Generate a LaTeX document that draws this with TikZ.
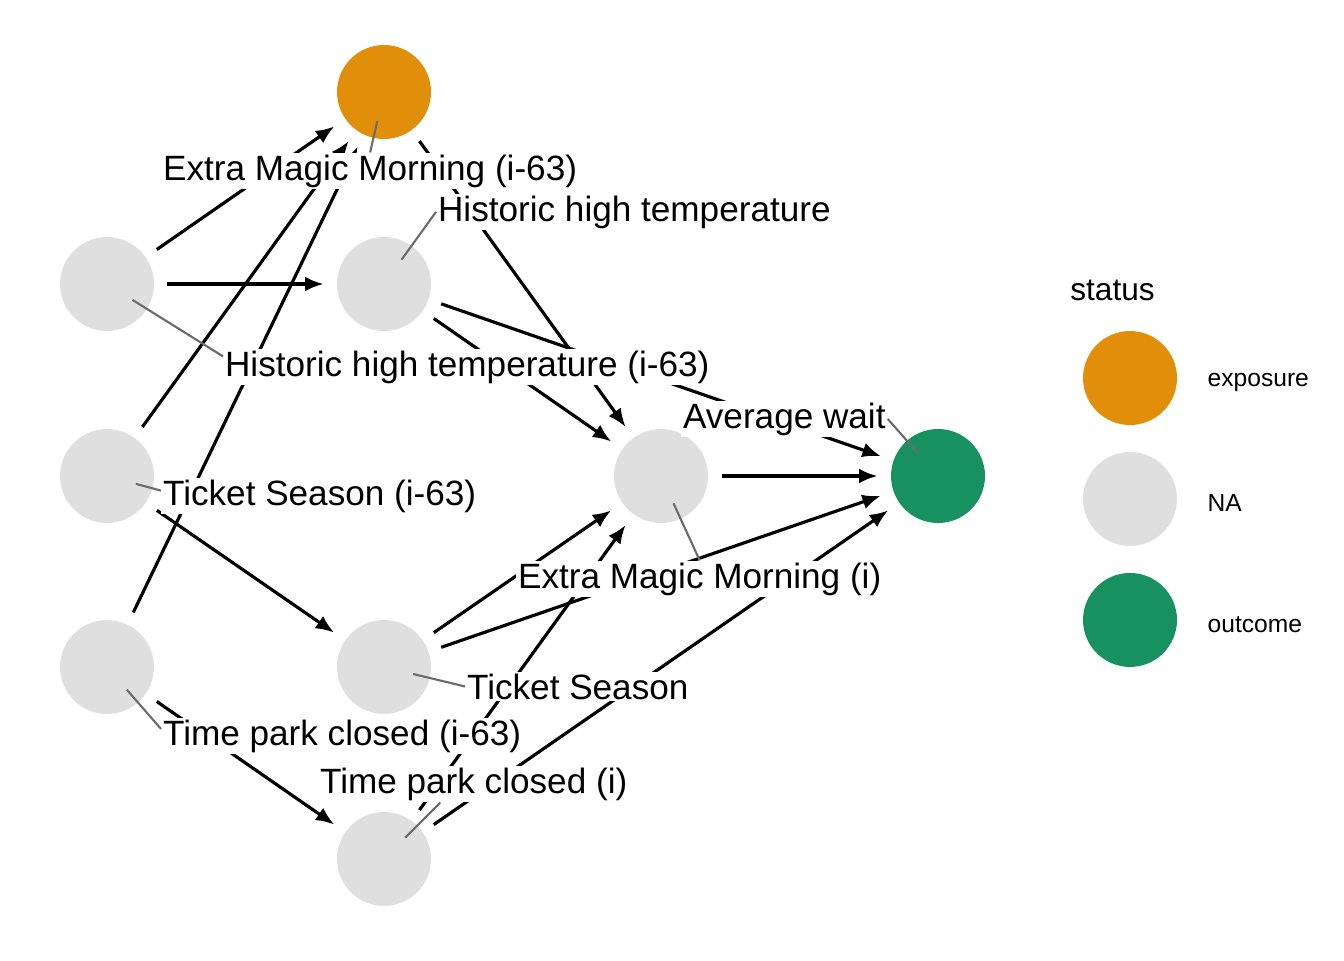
\documentclass[tikz,border=0pt]{standalone}
\usepackage{fontspec}
\setmainfont{Liberation Sans}
\usetikzlibrary{arrows.meta,positioning}

\definecolor{exposurecol}{HTML}{E18E0B}
\definecolor{nacol}{HTML}{DFDFDF}
\definecolor{outcomecol}{HTML}{16915F}

\begin{document}
\begin{tikzpicture}[
		x=0.02cm, y=-0.02cm,
		var/.style      = {circle, minimum size=1.88cm, inner sep=0pt, outer sep=0.27cm, fill=nacol},
		exposure/.style = {var, fill=exposurecol},
		outcome/.style  = {var, fill=outcomecol},
		lab/.style      = {fill=white, inner sep=1pt, anchor=base west, font=\fontsize{20}{24}\selectfont},
		leader/.style   = {draw=black!58, line width=1.2pt, shorten <=0.6cm},
		edge/.style     = {->, line width=1.8pt},
		legend/.style   = {circle, minimum size=1.88cm, inner sep=0pt},
		node distance=2.42cm,
		>={Latex[length=10.5pt,width=8.5pt]}]
	
	\useasboundingbox (0,0) rectangle (1344,960);
	
	% variables of the dag, first column (i-63)
	\node[var] (hht63) at (107,284) {};
	\node[var] (ts63)  at (107,476) {};
	\node[var] (tpc63) at (107,667) {};
	% second column, exposure on top
	\node[exposure] (emm63) at (384,92) {};
	\node[var] (hht)  at (384,284) {};
	\node[var] (ts)   at (384,667) {};
	\node[var] (tpci) at (384,859) {};
	% third column and the outcome
	\node[var] (emmi) at (661,476) {};
	\node[outcome] (avg) at (938,476) {};
	
	% arrows between the variables
	\foreach \from/\to in {hht63/emm63, hht63/hht, ts63/emm63, ts63/ts, tpc63/emm63, tpc63/tpci,
		emm63/emmi, hht/emmi, hht/avg, emmi/avg, ts/emmi, ts/avg, tpci/emmi, tpci/avg}
	\draw[edge] (\from) -- (\to);
	
	% labels, on top of the arrows
	\node[lab] (emm63lab) at (161,180) {Extra Magic Morning (i-63)};
	\node[lab] (hhtlab)   at (436,221) {Historic high temperature};
	\node[lab] (hht63lab) at (223,376) {Historic high temperature (i-63)};
	\node[lab] (avglab)   at (681,428) {Average wait};
	\node[lab] (ts63lab)  at (161,505) {Ticket Season (i-63)};
	\node[lab] (emmilab)  at (516,588) {Extra Magic Morning (i)};
	\node[lab] (tslab)    at (465,699) {Ticket Season};
	\node[lab] (tpc63lab) at (161,745) {Time park closed (i-63)};
	\node[lab] (tpcilab)  at (318,793) {Time park closed (i)};
	
	% lines from each variable to its label
	\draw[leader] (emm63.center) -- (emm63lab.north);
	\draw[leader] (hht.center) -- (hhtlab.west);
	\draw[leader] (hht63.center) -- ([yshift=6pt]hht63lab.west);
	\draw[leader] (avg.center) -- (avglab.east);
	\draw[leader] (ts63.center) -- ([yshift=3pt]ts63lab.west);
	\draw[leader] (emmi.center) -- (emmilab.north);
	\draw[leader] (ts.center) -- (tslab.west);
	\draw[leader] (tpc63.center) -- ([yshift=4pt]tpc63lab.west);
	\draw[leader] (tpci.center) -- ([xshift=-19pt]tpcilab.south);
	
	% legend
	\node[anchor=base west, inner sep=0pt, font=\fontsize{18}{22}\selectfont] (legtitle) at (1070,300) {status};
	\node[legend, fill=exposurecol] (legexp) at (1130,378) {};
	\node[legend, fill=nacol, below of=legexp] (legna) {};
	\node[legend, fill=outcomecol, below of=legna] (legout) {};
	\begin{scope}[every node/.style={font=\fontsize{14}{17}\selectfont, inner sep=0pt, yshift=-2.5pt}]
		\node[right=0.6cm of legexp] (legexplab) {exposure};
		\node[right=0.6cm of legna] (legnalab) {NA};
		\node[right=0.6cm of legout] (legoutlab) {outcome};
	\end{scope}
	
\end{tikzpicture}
\end{document}
